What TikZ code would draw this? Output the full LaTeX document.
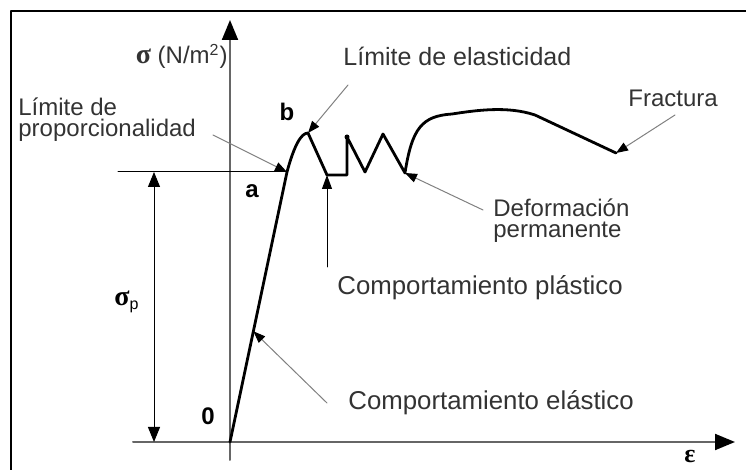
\documentclass[tikz,border=0pt]{standalone}
\usepackage{fontspec}
\setmainfont{Liberation Sans}
\newfontfamily\grfont{Liberation Serif}
\usetikzlibrary{arrows.meta,calc,positioning}

\begin{document}
\begin{tikzpicture}[x=0.5pt,y=-0.5pt,line join=round,line cap=round,
  lbl/.style={inner sep=0pt,text=black!80,font=\fontsize{12}{14}\selectfont},
  pto/.style={inner sep=0pt,font=\bfseries\fontsize{12}{14}\selectfont},
  eje/.style={black!60,line width=1pt,-{Triangle[length=10pt,width=8pt,color=black]}},
  curva/.style={line width=1.4pt},
  guia/.style={black!50,line width=0.5pt,-{Triangle[length=6pt,width=4.5pt,color=black]}},
  cota/.style={line width=0.5pt}]
\useasboundingbox (0,0) rectangle (746,470);
\draw[line width=1.2pt] (11,470) -- (11,11) -- (746,11);
% ejes
\coordinate (O) at (230,442);
\coordinate (ytop) at (230,20);
\coordinate (ybot) at (230,460);
\coordinate (xl) at (133,442);
\coordinate (xr) at (735,442);
\draw[eje] (ybot) -- (ytop);
\draw[eje] (xl) -- (xr);
% curva
\coordinate (a) at (287,172);
\coordinate (b) at (308,133);
\coordinate (c1) at (327,175);
\coordinate (c2) at (347,175);
\coordinate (c3) at (347,137);
\coordinate (c4) at (365,172);
\coordinate (c5) at (383,134);
\coordinate (d) at (405,173);
\coordinate (fr) at (616,153);
\coordinate (e) at ($(O)!0.41!(a)$);
\draw[curva] (O) -- (a) .. controls (294,146) and (301,133) .. (b) -- (c1) -- (c2) -- (c3) -- (c4) -- (c5) -- (d)
  .. controls (412,128) and (422,116) .. (452,114) .. controls (478,110) and (508,106) .. (535,115) -- (fr);
\fill (c3) circle (2.5);
% sigma_p
\coordinate (hl) at (118,172);
\coordinate (sp1) at (154,172);
\coordinate (sp2) at (154,442);
\draw[cota] (hl) -- (a);
\draw[cota,{Triangle[length=7.5pt,width=6pt]}-{Triangle[length=7.5pt,width=6pt]}] (sp1) -- (sp2);
% textos
\node[lbl,anchor=base east] (sig) at (228,64) {{\grfont\bfseries\fontsize{14}{14}\selectfont σ} (N/m\textsuperscript{2})};
\node[lbl,anchor=base west,font=\fontsize{12.5}{14}\selectfont] (le) at (343,66) {Límite de elasticidad};
\node[lbl,anchor=base west] (lp1) at (18,116) {Límite de};
\node[lbl,anchor=base west] (lp2) at (18,137) {proporcionalidad};
\node[lbl,anchor=base west] (fra) at (628,107) {Fractura};
\node[lbl,anchor=base west] (def1) at (493,217) {Deformación};
\node[lbl,anchor=base west] (def2) at (493,238) {permanente};
\node[lbl,anchor=base west,font=\fontsize{12.9}{14}\selectfont] (cpl) at (337,295) {Comportamiento plástico};
\node[lbl,anchor=base west,font=\fontsize{12.9}{14}\selectfont] (cel) at (348,410) {Comportamiento elástico};
\node[pto] (nb) at (287,112) {b};
\node[pto] (na) at (252,191) {a};
\node[pto] (n0) at (208,416) {0};
\node[pto] (sgp) at (127,302) {{\grfont\fontsize{14}{14}\selectfont σ}\textsubscript{\mdseries p}};
\node[pto] (eps) at (690,457) {{\grfont\fontsize{13}{13}\selectfont ε}};
% flechas
\coordinate (tlp) at (213,135);
\coordinate (tle) at (348,85);
\coordinate (tfr) at (675,115);
\coordinate (tdf) at (483,210);
\coordinate (tpl) at (327,267);
\coordinate (tel) at (327,403);
\draw[guia] (tlp) -- (a);
\draw[guia] (tle) -- (b);
\draw[guia] (tfr) -- (fr);
\draw[guia] (tdf) -- (d);
\draw[guia] (tel) -- (e);
\draw[cota,-{Triangle[length=7pt,width=5pt]}] (tpl) -- (c1);
\end{tikzpicture}
\end{document}
